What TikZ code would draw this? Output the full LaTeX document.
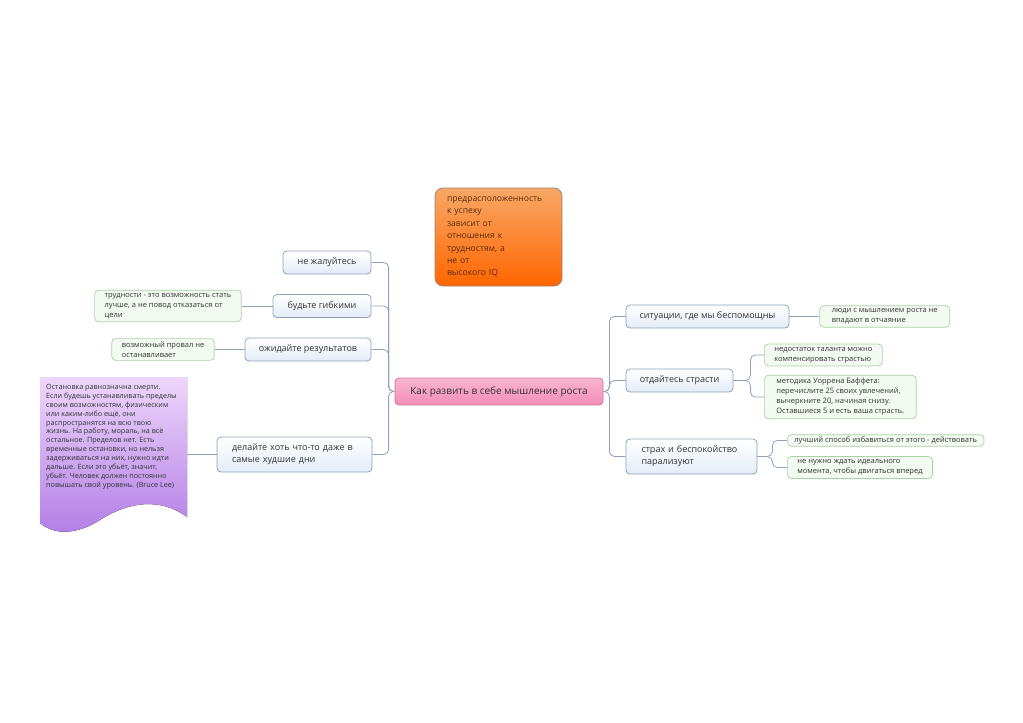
\documentclass[tikz,border=0pt]{standalone}
\usepackage{fontspec}
\setmainfont{Open Sans}
\usetikzlibrary{positioning}

\definecolor{topicline}{HTML}{8FA2BA}
\definecolor{topicfill}{HTML}{E4ECF7}
\definecolor{noteline}{HTML}{A9D2A4}
\definecolor{notefill}{HTML}{F3FAF1}
\definecolor{linkcol}{HTML}{8EA3BD}
\definecolor{textgray}{HTML}{333333}
\definecolor{rootline}{HTML}{C97A9C}
\definecolor{roottop}{HTML}{F9B6D0}
\definecolor{rootbot}{HTML}{F38DB6}
\definecolor{iqtop}{HTML}{F8A867}
\definecolor{iqbot}{HTML}{FF6500}
\definecolor{iqline}{HTML}{9C8577}
\definecolor{iqtext}{HTML}{5C2C0C}
\definecolor{quotetop}{HTML}{EED6FB}
\definecolor{quotebot}{HTML}{B27DE6}

\begin{document}
\begin{tikzpicture}[
    x=1pt, y=-1pt,
    root/.style={
        rectangle, rounded corners=4pt, draw=rootline, line width=0.8pt,
        top color=roottop, bottom color=rootbot, text=textgray,
        minimum width=208pt, minimum height=27pt,
        font=\fontsize{10}{12}\selectfont
    },
    topic/.style={
        rectangle, rounded corners=4pt, draw=topicline, line width=0.8pt,
        top color=white, bottom color=topicfill, text=textgray,
        minimum height=23pt, inner xsep=8pt, align=center,
        font=\fontsize{9}{12}\selectfont
    },
    note/.style={
        rectangle, rounded corners=4pt, draw=noteline, line width=0.7pt,
        fill=notefill, text=textgray, align=left,
        inner xsep=10pt, inner ysep=3pt,
        font=\fontsize{7.5}{10}\selectfont
    },
    link/.style={draw=linkcol, line width=0.8pt, rounded corners=5pt},
]

\useasboundingbox[fill=white] (0,0) rectangle (1023,723);

% ── Centre and side note ──
\node[root] (root) at (499,391.5) {Как развить в себе мышление роста};

\node[rectangle, rounded corners=8pt, draw=iqline, line width=0.8pt,
      top color=iqtop, bottom color=iqbot, text=iqtext,
      minimum width=127pt, minimum height=98pt, text width=103pt, align=left,
      font=\fontsize{8.6}{12.4}\selectfont] (iq) at (498.5,237)
    {предрасположенность\\к успеху\\зависит от\\отношения к\\трудностям, а\\не от\\высокого IQ};

% ── Left branches ──
\node[topic, minimum width=88pt] (nocompl) at (327,262.5) {не жалуйтесь};
\node[topic, minimum width=98pt] (flex) at (322,306) {будьте гибкими};
\node[topic, minimum width=126pt] (expect) at (308,349.5) {ожидайте результатов};
\node[topic, minimum width=155pt, minimum height=35pt, text width=125pt, align=left]
    (doit) at (294.5,454.5) {делайте хоть что-то даже в\\самые худшие дни};

\node[note, left=31pt of flex] (flexnote)
    {трудности - это возможность стать\\лучше, а не повод отказаться от\\цели};
\node[note, left=30pt of expect] (expnote) {возможный провал не\\останавливает};

% ── Quote ──
\fill[top color=quotetop, bottom color=quotebot]
    (40,377) -- (187,377) -- (187,517)
    .. controls (160,497) and (128,502) .. (100,520)
    .. controls (78,534) and (55,536) .. (40,523) -- cycle;
\node[anchor=north west, inner sep=6pt, align=left, text=textgray,
      font=\fontsize{7.2}{8.9}\selectfont] (quote) at (40,378)
    {Остановка равнозначна смерти.\\Если будешь устанавливать пределы\\своим возможностям, физическим\\или каким-либо ещё, они\\распространятся на всю твою\\жизнь. На работу, мораль, на всё\\остальное. Пределов нет. Есть\\временные остановки, но нельзя\\задерживаться на них, нужно идти\\дальше. Если это убьёт, значит,\\убьёт. Человек должен постоянно\\повышать свой уровень. (Bruce Lee)};
\coordinate (quoteport) at (187,454.5);

% ── Right branches ──
\node[topic, minimum width=163pt] (helpless) at (707.5,316.5) {ситуации, где мы беспомощны};
\node[topic, minimum width=107pt] (passion) at (679.5,380.5) {отдайтесь страсти};
\node[topic, minimum width=131pt, minimum height=35pt, text width=100pt, align=left]
    (fear) at (691.5,456.5) {страх и беспокойство\\парализуют};

\node[note, right=30pt of helpless, inner xsep=12pt] (helpnote) {люди с мышлением роста не\\впадают в отчаяние};
\node[note, anchor=west] (passnote1) at (764,355) {недостаток таланта можно\\компенсировать страстью};
\node[note, anchor=west, inner xsep=12pt] (passnote2) at (764,397)
    {методика Уоррена Баффета:\\перечислите 25 своих увлечений,\\вычеркните 20, начиная снизу.\\Оставшиеся 5 и есть ваша страсть.};
\node[note, anchor=west, inner xsep=7pt, inner ysep=2pt] (fearnote1) at (787,440.5)
    {лучший способ избавиться от этого - действовать};
\node[note, anchor=west] (fearnote2) at (787,467.5)
    {не нужно ждать идеального\\момента, чтобы двигаться вперед};

% ── Edges ──
\foreach \kid in {nocompl, flex, expect, doit}
    \draw[link] (root.west) -- ++(-6,0) |- (\kid.east);
\foreach \kid in {helpless, passion, fear}
    \draw[link] (root.east) -- ++(6,0) |- (\kid.west);

\draw[link] (flex.west) -- (flexnote.east);
\draw[link] (expect.west) -- (expnote.east);
\draw[link] (doit.west) -- (quoteport);
\draw[link] (helpless.east) -- (helpnote.west);
\foreach \kid in {passnote1, passnote2}
    \draw[link] (passion.east) -- ++(17,0) |- (\kid.west);
\foreach \kid in {fearnote1, fearnote2}
    \draw[link] (fear.east) -- ++(15,0) |- (\kid.west);

\end{tikzpicture}
\end{document}
